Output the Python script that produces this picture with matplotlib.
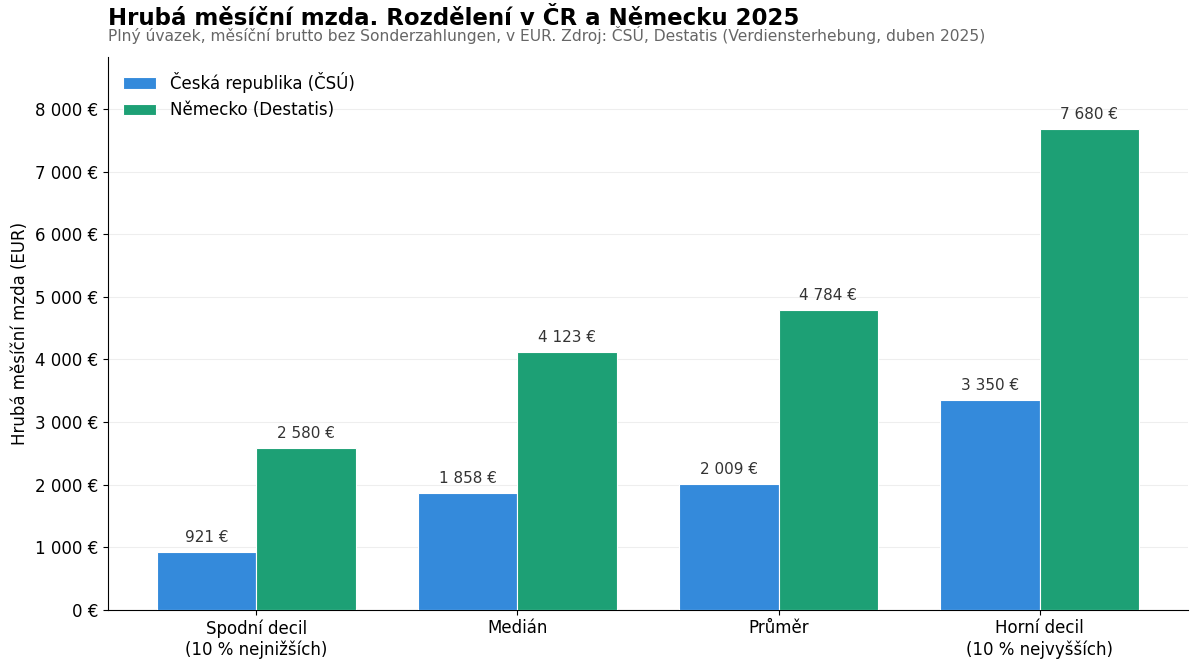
import matplotlib
matplotlib.use("Agg")
from matplotlib import pyplot as plt
import numpy as np

categories = ["Spodní decil\n(10 % nejnižších)", "Medián", "Průměr", "Horní decil\n(10 % nejvyšších)"]
cz_values = [921, 1858, 2009, 3350]
de_values = [2580, 4123, 4784, 7680]
series_names = ["Česká republika (ČSÚ)", "Německo (Destatis)"]


def eur(v):
    return f"{v:,.0f}".replace(",", " ") + " €"


plt.rcParams['font.family'] = ['DejaVu Sans']

fig = plt.figure(figsize=(12, 6.7), dpi=100)
ax = fig.add_axes([0.09, 0.09, 0.9, 0.825])

x = np.arange(len(categories))
w = 0.38
b1 = ax.bar(x - w / 2, cz_values, width=w, color="#348ADB", edgecolor="white", linewidth=0.8,
            label=series_names[0], zorder=3)
b2 = ax.bar(x + w / 2, de_values, width=w, color="#1DA075", edgecolor="white", linewidth=0.8,
            label=series_names[1], zorder=3)

for bars in (b1, b2):
    for r in bars:
        ax.annotate(eur(r.get_height()), (r.get_x() + r.get_width() / 2, r.get_height()),
                    xytext=(0, 5), textcoords="offset points", ha="center", va="bottom",
                    fontsize=11, color="#333333")

ax.set_ylim(0, max(de_values) * 1.15)
ax.set_yticks(np.arange(0, 8001, 1000))
ax.set_yticklabels([eur(v) for v in np.arange(0, 8001, 1000)], fontsize=12)
ax.set_xticks(x)
ax.set_xticklabels(categories, fontsize=12)
ax.set_ylabel("Hrubá měsíční mzda (EUR)", fontsize=12)

ax.grid(axis="y", color="#eeeeee", linewidth=0.8, zorder=0)
ax.spines["top"].set_visible(False)
ax.spines["right"].set_visible(False)

ax.legend(loc="upper left", frameon=False, fontsize=12, handlelength=2.0)

fig.text(0.09, 0.955, "Hrubá měsíční mzda. Rozdělení v ČR a Německu 2025",
         fontsize=16.5, fontweight="bold", ha="left", va="bottom")
fig.text(0.09, 0.935, "Plný úvazek, měsíční brutto bez Sonderzahlungen, v EUR. Zdroj: ČSÚ, Destatis (Verdiensterhebung, duben 2025)",
         fontsize=11.2, color="#666666", ha="left", va="bottom")

fig.savefig("out.png", dpi=100)
